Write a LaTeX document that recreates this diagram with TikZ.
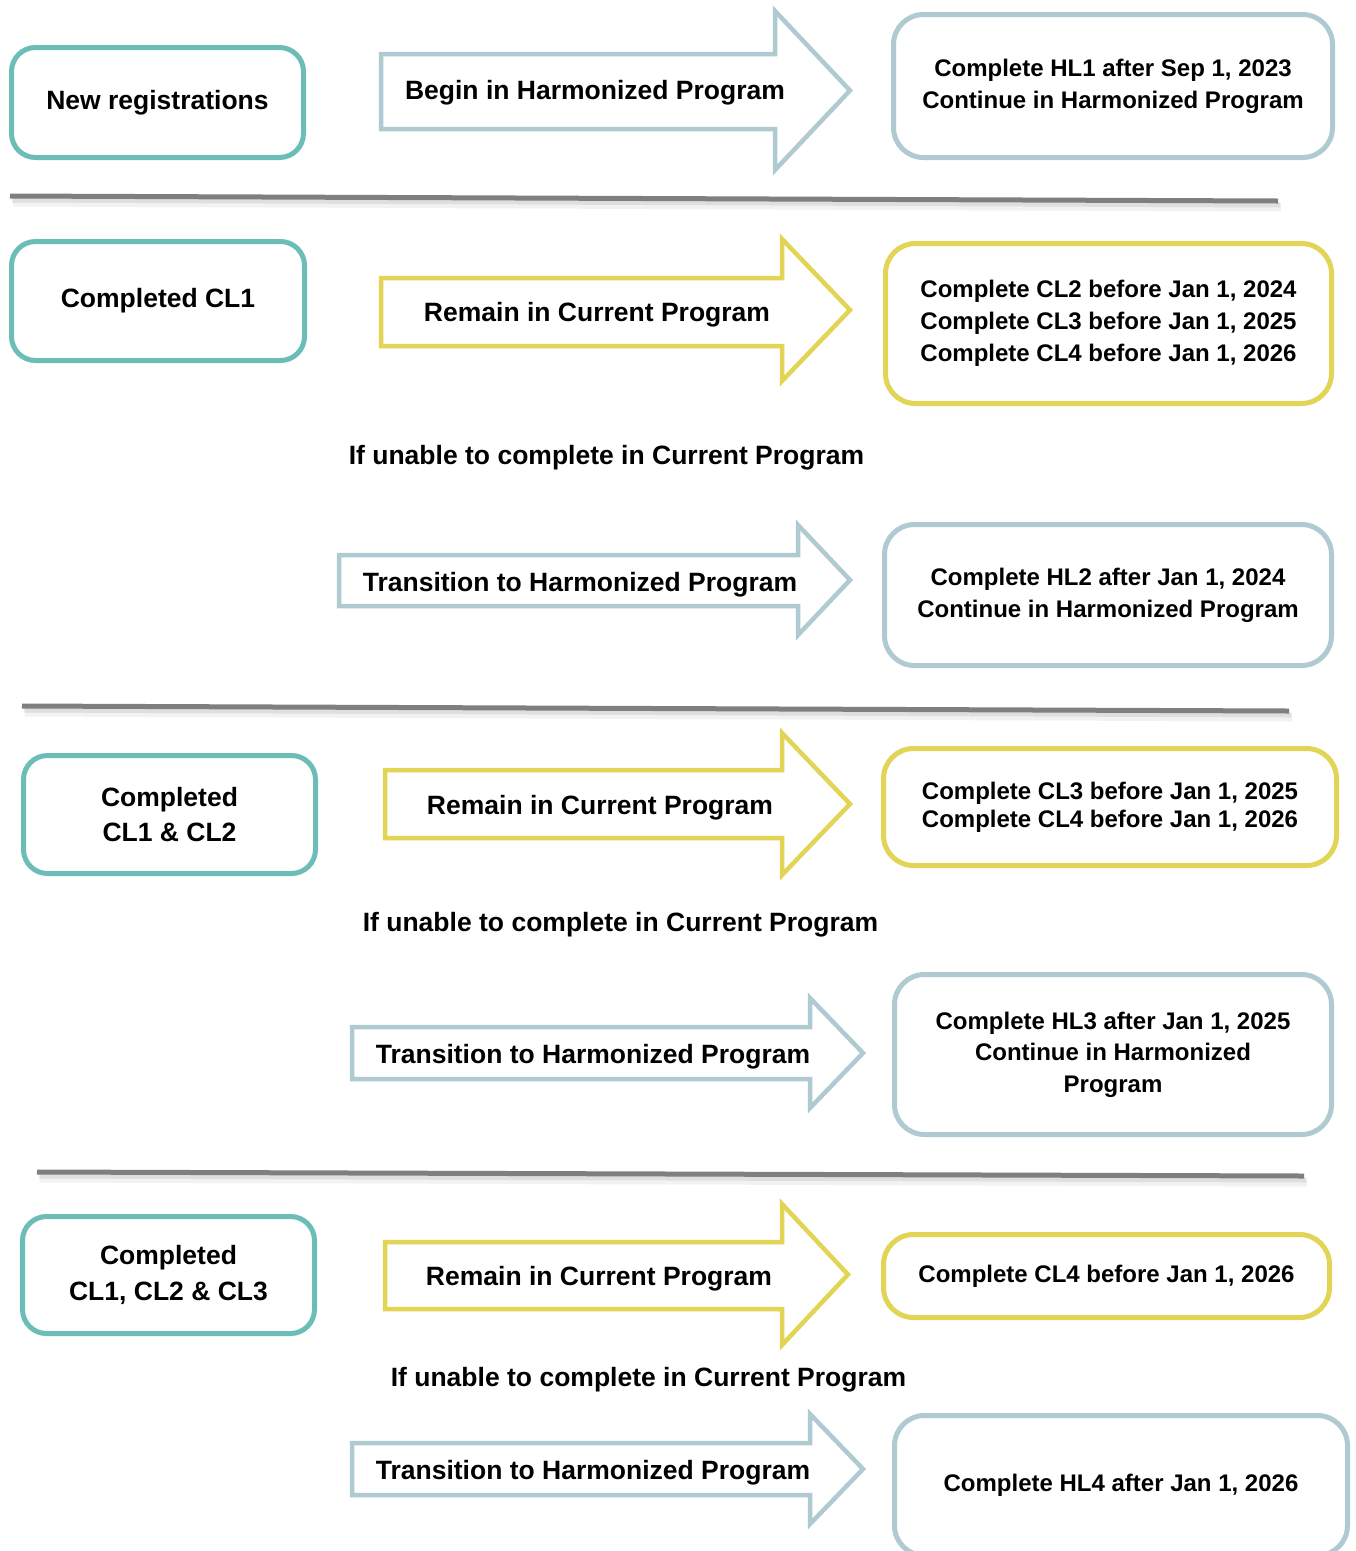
\documentclass[tikz,border=0pt]{standalone}
\usepackage{fontspec}
\setmainfont{Liberation Sans}
\definecolor{tealc}{HTML}{6CBDB7}
\definecolor{bgray}{HTML}{AFCBD1}
\definecolor{ylw}{HTML}{E2D454}
\definecolor{sepc}{HTML}{7F7F7F}
\tikzset{
  leftbox/.style={draw=tealc, line width=5pt, rounded corners=24pt, inner sep=0pt,
     font=\fontsize{26.5}{35.5}\selectfont\bfseries, align=center},
  hbox/.style={draw=bgray, line width=5pt, rounded corners=30pt, inner sep=0pt,
     font=\fontsize{24}{32}\selectfont\bfseries, align=center},
  cbox/.style={draw=ylw, line width=5pt, rounded corners=30pt, inner sep=0pt,
     font=\fontsize{24}{32}\selectfont\bfseries, align=center},
  harrow/.style={draw=bgray, line width=4.5pt, fill=white, line join=miter},
  carrow/.style={draw=ylw, line width=4.5pt, fill=white, line join=miter},
  bigtxt/.style={font=\fontsize{26.5}{35.5}\selectfont\bfseries, align=center, inner sep=0pt},
  sepline/.style={draw=sepc, line width=5pt},
  sepshadowA/.style={draw=black, opacity=0.05, line width=9pt},
  sepshadowB/.style={draw=black, opacity=0.08, line width=5pt}
}
% #1 style, #2 x0, #3 xh, #4 xtip, #5 ytop, #6 ybot, #7 head top, #8 head bottom
\newcommand{\flowarrow}[8]{%
  \draw[#1] (#2,#5) -- (#3,#5) -- (#3,#7) -- (#4,{(#7+#8)/2}) -- (#3,#8) -- (#3,#6) -- (#2,#6) -- cycle;}
\newcommand{\sepdraw}[4]{%
  \draw[sepshadowA] (#1+3,#2+6) -- (#3+3,#4+6);
  \draw[sepshadowB] (#1+2,#2+4) -- (#3+2,#4+4);
  \draw[sepline] (#1,#2) -- (#3,#4);}
\begin{document}
\begin{tikzpicture}[x=1pt, y=-1pt]
\fill[white] (0,0) rectangle (1356,1551);
\useasboundingbox (0,0) rectangle (1356,1551);
\begin{scope}
\clip (0,0) rectangle (1356,1551);

% ---------- Section 1 ----------
\node[leftbox, minimum width=292pt, minimum height=110pt] (newreg) at (157.5,102.5) {New registrations};
\flowarrow{harrow}{381}{775}{850}{54}{129}{11}{170}
\node[bigtxt] (a1) at (595,92.5) {Begin in Harmonized Program};
\node[hbox, minimum width=439pt, minimum height=143pt] (r1) at (1113,86) {Complete HL1 after Sep 1, 2023\\Continue in Harmonized Program};
\sepdraw{10}{196}{1278}{201}

% ---------- Section 2 ----------
\node[leftbox, minimum width=293pt, minimum height=119pt] (cl1) at (158,301) {Completed CL1};
\flowarrow{carrow}{381}{782}{850}{278}{346}{239}{381}
\node[bigtxt] (a2) at (597,314.5) {Remain in Current Program};
\node[cbox, minimum width=446pt, minimum height=160pt] (r2) at (1108.5,323.5) {Complete CL2 before Jan 1, 2024\\Complete CL3 before Jan 1, 2025\\Complete CL4 before Jan 1, 2026};
\node[bigtxt] (u2) at (606.5,457.5) {If unable to complete in Current Program};
\flowarrow{harrow}{339}{798}{850}{555}{606}{525}{635}
\node[bigtxt] (t2) at (580,584.5) {Transition to Harmonized Program};
\node[hbox, minimum width=447pt, minimum height=141pt] (h2) at (1108,595) {Complete HL2 after Jan 1, 2024\\Continue in Harmonized Program};
\sepdraw{22}{706}{1289}{711}

% ---------- Section 3 ----------
\node[leftbox, minimum width=292pt, minimum height=118pt] (cl12) at (169.5,814.5) {Completed\\CL1 \& CL2};
\flowarrow{carrow}{385}{782}{850}{770}{838}{733}{875}
\node[bigtxt] (a3) at (600,807.5) {Remain in Current Program};
\node[cbox, minimum width=453pt, minimum height=117pt, font=\fontsize{24}{28}\selectfont\bfseries] (r3) at (1110,807) {Complete CL3 before Jan 1, 2025\\Complete CL4 before Jan 1, 2026};
\node[bigtxt] (u3) at (620.5,924.5) {If unable to complete in Current Program};
\flowarrow{harrow}{352}{810}{863}{1027}{1079}{998}{1108}
\node[bigtxt] (t3) at (593,1056.5) {Transition to Harmonized Program};
\node[hbox, minimum width=437pt, minimum height=160pt, font=\fontsize{24}{31.5}\selectfont\bfseries] (h3) at (1113,1054.5) {Complete HL3 after Jan 1, 2025\\Continue in Harmonized\\Program};
\sepdraw{37}{1172}{1304}{1176}

% ---------- Section 4 ----------
\node[leftbox, minimum width=292pt, minimum height=117pt] (cl123) at (168.5,1275) {Completed\\CL1, CL2 \& CL3};
\flowarrow{carrow}{385}{782}{848}{1242}{1309}{1204}{1345}
\node[bigtxt] (a4) at (599,1278.5) {Remain in Current Program};
\node[cbox, minimum width=446pt, minimum height=83pt] (r4) at (1106.5,1276) {Complete CL4 before Jan 1, 2026};
\node[bigtxt] (u4) at (648.5,1379.5) {If unable to complete in Current Program};
\flowarrow{harrow}{352}{810}{863}{1443}{1495}{1414}{1524}
\node[bigtxt] (t4) at (593,1472.5) {Transition to Harmonized Program};
\node[hbox, minimum width=453pt, minimum height=140pt] (h4) at (1121,1485.5) {Complete HL4 after Jan 1, 2026};
\end{scope}
\end{tikzpicture}
\end{document}
